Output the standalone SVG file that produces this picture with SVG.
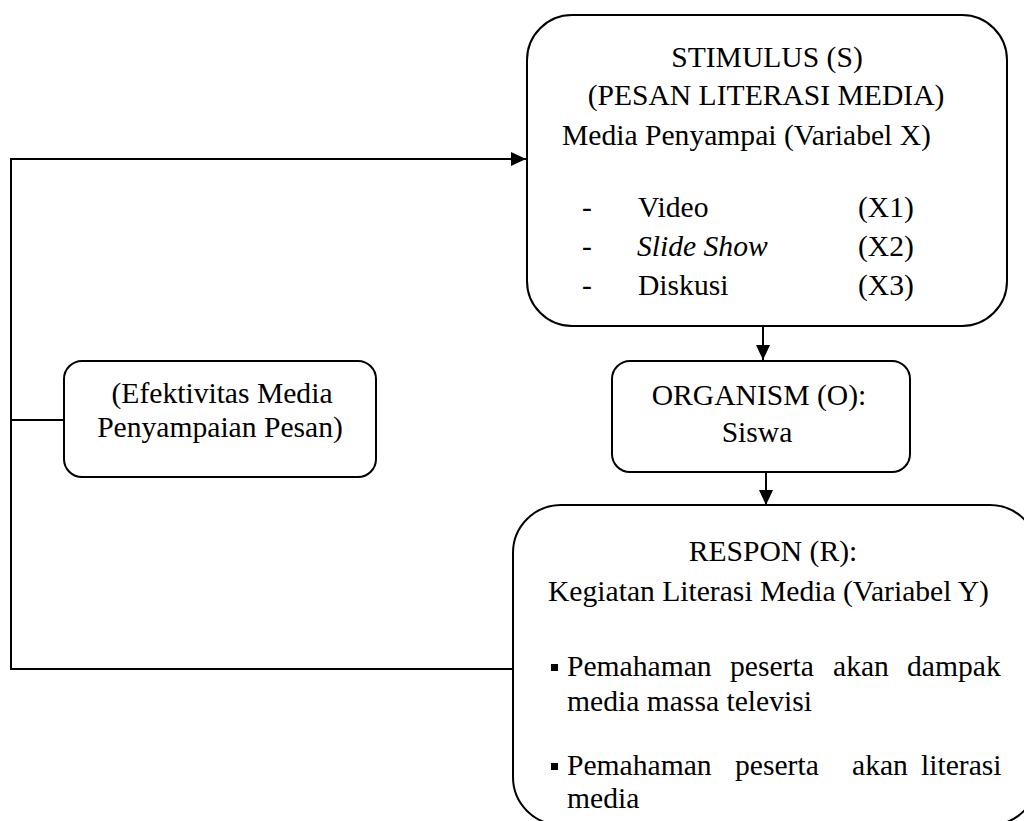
<svg xmlns="http://www.w3.org/2000/svg" width="1024" height="821" viewBox="0 0 1024 821">
<style>
.box{fill:#fff;stroke:#000;stroke-width:2}
.ln{fill:none;stroke:#000;stroke-width:2}
.t{font-family:"Liberation Serif","Times New Roman",serif;font-size:29.6px;fill:#000}
.c{text-anchor:middle}
.i{font-style:italic}
</style>
<defs>
<marker id="ah" markerUnits="userSpaceOnUse" markerWidth="15" markerHeight="14" refX="15" refY="7" orient="auto">
<path d="M0,0 L15,7 L0,14 z" fill="#000"/>
</marker>
</defs>
<rect width="1024" height="821" fill="#fff"/>
<g id="connectors">
<path class="ln" d="M513,669 H11 V159 H526" marker-end="url(#ah)"/>
<line class="ln" x1="11" y1="420" x2="64" y2="420"/>
<line class="ln" x1="763" y1="326" x2="763" y2="360" marker-end="url(#ah)"/>
<line class="ln" x1="766" y1="472" x2="766" y2="505" marker-end="url(#ah)"/>
</g>
<g id="stimulus">
<rect class="box" x="527" y="15" width="480" height="311" rx="45"/>
<text class="t c" x="767" y="67">STIMULUS (S)</text>
<text class="t c" x="766" y="105">(PESAN LITERASI MEDIA)</text>
<text class="t" x="562" y="145">Media Penyampai (Variabel X)</text>
<text class="t" x="582" y="217">-</text>
<text class="t" x="638" y="217">Video</text>
<text class="t" x="858" y="217">(X1)</text>
<text class="t" x="582" y="256">-</text>
<text class="t i" x="637" y="256">Slide Show</text>
<text class="t" x="858" y="256">(X2)</text>
<text class="t" x="582" y="295">-</text>
<text class="t" x="638" y="295">Diskusi</text>
<text class="t" x="858" y="295">(X3)</text>
</g>
<g id="efektivitas">
<rect class="box" x="64" y="361" width="312" height="116" rx="18"/>
<text class="t c" x="222" y="403">(Efektivitas Media</text>
<text class="t c" x="220" y="437">Penyampaian Pesan)</text>
</g>
<g id="organism">
<rect class="box" x="612" y="361" width="298" height="111" rx="18"/>
<text class="t c" x="759" y="405">ORGANISM (O):</text>
<text class="t c" x="757" y="442">Siswa</text>
</g>
<g id="respon">
<rect class="box" x="513" y="505" width="525" height="320" rx="48"/>
<text class="t c" x="773" y="561">RESPON (R):</text>
<text class="t" x="548" y="601">Kegiatan Literasi Media (Variabel Y)</text>
<rect x="551" y="664" width="7" height="7" fill="#000"/>
<text class="t" y="676"><tspan x="567">Pemahaman</tspan><tspan x="730">peserta</tspan><tspan x="833">akan</tspan><tspan x="907">dampak</tspan></text>
<text class="t" x="567" y="711">media massa televisi</text>
<rect x="551" y="763" width="7" height="7" fill="#000"/>
<text class="t" y="775"><tspan x="567">Pemahaman</tspan><tspan x="735">peserta</tspan><tspan x="852">akan</tspan><tspan x="921">literasi</tspan></text>
<text class="t" x="567" y="808">media</text>
</g>
</svg>
